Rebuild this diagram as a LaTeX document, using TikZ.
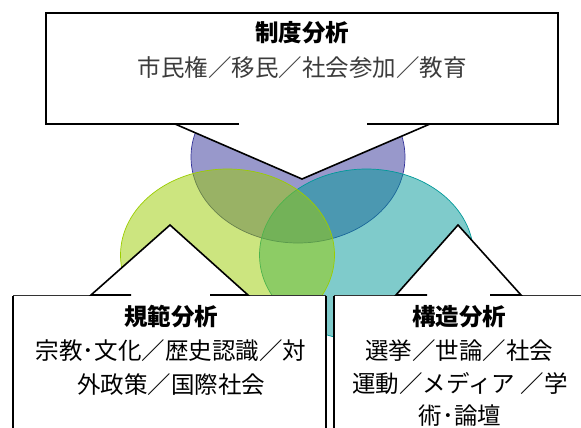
\documentclass[tikz,border=0pt]{standalone}
\usepackage{fontspec}
\usetikzlibrary{shapes.geometric}
\newfontfamily\jp{Noto Sans CJK JP}
\definecolor{vpurple}{RGB}{51,51,153}
\definecolor{vcyan}{RGB}{0,153,153}
\definecolor{vgreen}{RGB}{155,205,0}
\definecolor{subgray}{RGB}{60,60,60}
\begin{document}
\begin{tikzpicture}[x=1pt,y=-1pt,
  venn/.style={ellipse, minimum width=214pt, minimum height=172pt, inner sep=0pt, fill opacity=0.5, line width=0.7pt},
  boxline/.style={line width=1.6pt, line join=miter},
  thinline/.style={line width=0.9pt, draw=black!80},
  ttl/.style={font=\jp\bfseries\fontsize{23.5}{30}\selectfont, anchor=base, inner sep=0pt},
  body/.style={font=\jp\fontsize{23.5}{30}\selectfont, anchor=base, inner sep=0pt},
]
\useasboundingbox (0,0) rectangle (581,428);
\fill[white] (0,0) rectangle (581,428);
% Venn ellipses
\node[venn, fill=vpurple, draw=vpurple] (cP) at (298,157) {};
\node[venn, fill=vcyan, draw=vcyan] (cC) at (366.5,255) {};
\node[venn, fill=vgreen, draw=vgreen] (cG) at (227.5,255) {};
% Top callout
\fill[white] (46,13) rectangle (558,124);
\fill[white] (175,124) -- (302,179) -- (430,124) -- cycle;
\draw[boxline] (239,124) -- (46,124) -- (46,13) -- (558,13) -- (558,124) -- (367,124);
\draw[boxline] (175,124) -- (302,179) -- (430,124);
% Left callout
\fill[white] (13,295) rectangle (326,440);
\fill[white] (91,295) -- (170,225) -- (248,295) -- cycle;
\draw[thinline] (13,295) -- (91,295);
\draw[thinline] (248,295) -- (326,295);
\draw[boxline] (13,440) -- (13,295.5);
\draw[boxline] (326,295.5) -- (326,440);
\draw[boxline] (131,295) -- (91,295) -- (170,225) -- (248,295) -- (210,295);
% Right callout
\fill[white] (334,295) rectangle (600,440);
\fill[white] (396,295) -- (458,225) -- (521,295) -- cycle;
\draw[thinline] (334,295) -- (396,295);
\draw[thinline] (521,295) -- (600,295);
\draw[boxline] (334,295.5) -- (334,440);
\draw[boxline] (427,295) -- (396,295) -- (458,225) -- (521,295) -- (490,295);
% Texts
\node[ttl] (tTop) at (302,42) {制度分析};
\node[body, text=subgray] (tTopSub) at (302,77) {市民権／移民／社会参加／教育};
\node[ttl] (tLeft) at (171,325) {規範分析};
\node[body] (tLeft1) at (171,359) {宗教･文化／歴史認識／対};
\node[body] (tLeft2) at (171,393) {外政策／国際社会};
\node[ttl] (tRight) at (459,325) {構造分析};
\node[body] (tRight1) at (459,359) {選挙／世論／社会};
\node[body] (tRight2) at (460,392) {運動／メディア ／学};
\node[body] (tRight3) at (460,424) {術･論壇};
\end{tikzpicture}
\end{document}
